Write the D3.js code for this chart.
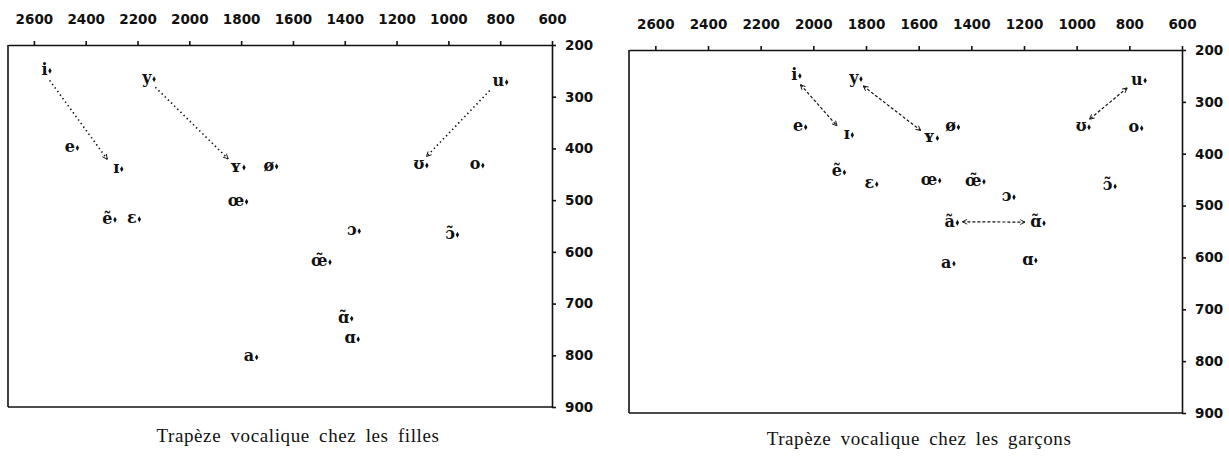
<!DOCTYPE html>
<html>
<head>
<meta charset="utf-8">
<script src="https://cdn.jsdelivr.net/npm/d3@7"></script>
<style>
  body { margin: 0; background: #fff; }
  .tick text { font-family: "DejaVu Sans", sans-serif; font-weight: bold; font-size: 13.5px; fill: #111; }
  .domain, .tick line { stroke: #111; stroke-width: 1.6; }
  .vowel { font-family: "DejaVu Serif", serif; font-weight: bold; font-size: 16px; fill: #111; }
  .caption { font-family: "Liberation Serif", serif; font-size: 19px; letter-spacing: 0.6px; word-spacing: 4px; fill: #111; }
</style>
</head>
<body>
<script>
// formants (F2 horizontal, F1 vertical, Hz)
var xTicks = [2600, 2400, 2200, 2000, 1800, 1600, 1400, 1200, 1000, 800, 600];
var yTicks = [200, 300, 400, 500, 600, 700, 800, 900];

var vowelsFilles = ["i", "y", "e", "ɪ", "ʏ", "ø", "œ", "ẽ", "ɛ", "u", "ʊ", "o", "ɔ", "ɔ̃", "œ̃", "ɑ̃", "ɑ", "a"];
var f2Filles = [2538, 2136, 2432, 2261, 1789, 1663, 1779, 2287, 2193, 775, 1083, 867, 1344, 965, 1457, 1373, 1348, 1740];
var f1Filles = [250, 266, 399, 440, 437, 435, 503, 538, 537, 272, 433, 433, 560, 567, 620, 729, 769, 804];
var arrowsFilles = [["i", "ɪ"], ["y", "ʏ"], ["u", "ʊ"]];

var vowelsGarcons = ["i", "y", "e", "ɪ", "ẽ", "ɛ", "ʏ", "œ", "ø", "œ̃", "ɔ", "ɔ̃", "u", "ʊ", "o", "ã", "ɑ̃", "a", "ɑ"];
var f2Garcons = [2051, 1819, 2029, 1852, 1882, 1759, 1529, 1520, 1449, 1352, 1238, 854, 740, 953, 753, 1453, 1124, 1466, 1155];
var f1Garcons = [250, 256, 349, 364, 436, 459, 370, 452, 349, 454, 484, 463, 259, 349, 351, 533, 534, 612, 606];
var arrowsGarcons = [["i", "ɪ"], ["y", "ʏ"], ["u", "ʊ"], ["ã", "ɑ̃"]];

var svg = d3.select('body').append('svg')
  .attr('width', 1229)
  .attr('height', 457);

var defs = svg.append('defs');
defs.append('marker')
  .attr('id', 'head')
  .attr('viewBox', '0 0 10 10')
  .attr('refX', 9).attr('refY', 5)
  .attr('markerWidth', 6).attr('markerHeight', 6)
  .attr('markerUnits', 'userSpaceOnUse')
  .attr('orient', 'auto-start-reverse')
  .append('path')
  .attr('d', 'M1,1 L9,5 L1,9')
  .attr('fill', 'none')
  .attr('stroke', '#111')
  .attr('stroke-width', 1.5);

function drawPanel(opts) {
  var x = d3.scaleLinear().domain([2700, 600]).range(opts.xr);
  var y = d3.scaleLinear().domain([200, 900]).range(opts.yr);
  var g = svg.append('g');

  // frame: left and bottom sides
  g.append('line')
    .attr('x1', x(2700)).attr('x2', x(2700))
    .attr('y1', y(200)).attr('y2', y(900))
    .attr('stroke', '#111').attr('stroke-width', 1.6);
  g.append('line')
    .attr('x1', x(2700)).attr('x2', x(600))
    .attr('y1', y(900)).attr('y2', y(900))
    .attr('stroke', '#111').attr('stroke-width', 1.6);

  g.append('g')
    .attr('transform', 'translate(0,' + y(200) + ')')
    .call(d3.axisTop(x).tickValues(xTicks).tickFormat(d3.format('d'))
      .tickSize(4).tickSizeOuter(0).tickPadding(17));

  g.append('g')
    .attr('transform', 'translate(' + x(600) + ',0)')
    .call(d3.axisRight(y).tickValues(yTicks).tickFormat(d3.format('d'))
      .tickSize(4).tickSizeOuter(0).tickPadding(9));

  var pts = opts.vowels.map(function(v, i) {
    return { v: v, px: x(opts.f2[i]), py: y(opts.f1[i]) };
  });
  var byName = {};
  pts.forEach(function(p) { byName[p.v] = p; });

  // arrows between label centres
  opts.arrows.forEach(function(a) {
    var s = byName[a[0]], t = byName[a[1]];
    var sx = s.px - 8, sy = s.py - 1, tx = t.px - 8, ty = t.py - 1;
    var dx = tx - sx, dy = ty - sy, len = Math.sqrt(dx * dx + dy * dy);
    var ux = dx / len, uy = dy / len;
    var line = g.append('line')
      .attr('x1', sx + ux * 13).attr('y1', sy + uy * 13)
      .attr('x2', tx - ux * 11).attr('y2', ty - uy * 11)
      .attr('stroke', '#111')
      .attr('stroke-width', opts.dotted ? 1.6 : 1.2)
      .attr('stroke-dasharray', opts.dotted ? '1.4,3' : '3,2')
      .attr('marker-end', 'url(#head)');
    if (!opts.dotted) line.attr('marker-start', 'url(#head)');
  });

  g.selectAll('path.pt').data(pts).enter().append('path')
    .attr('class', 'pt')
    .attr('transform', function(d) { return 'translate(' + d.px + ',' + d.py + ')'; })
    .attr('d', d3.symbol().type(d3.symbolDiamond).size(10))
    .attr('fill', '#111');

  g.selectAll('text.vowel').data(pts).enter().append('text')
    .attr('class', 'vowel')
    .attr('x', function(d) { return d.px - 2.5; })
    .attr('y', function(d) { return d.py + 4; })
    .attr('text-anchor', 'end')
    .text(function(d) { return d.v; });

  g.append('text')
    .attr('class', 'caption')
    .attr('x', opts.capX)
    .attr('y', opts.capY)
    .attr('text-anchor', 'middle')
    .text(opts.caption);
}

drawPanel({
  xr: [8, 552], yr: [45, 407],
  vowels: vowelsFilles, f2: f2Filles, f1: f1Filles,
  arrows: arrowsFilles, dotted: true,
  caption: 'Trapèze vocalique chez les filles', capX: 298, capY: 442
});

drawPanel({
  xr: [629, 1182], yr: [50, 413],
  vowels: vowelsGarcons, f2: f2Garcons, f1: f1Garcons,
  arrows: arrowsGarcons, dotted: false,
  caption: 'Trapèze vocalique chez les garçons', capX: 919, capY: 445
});
</script>
</body>
</html>
